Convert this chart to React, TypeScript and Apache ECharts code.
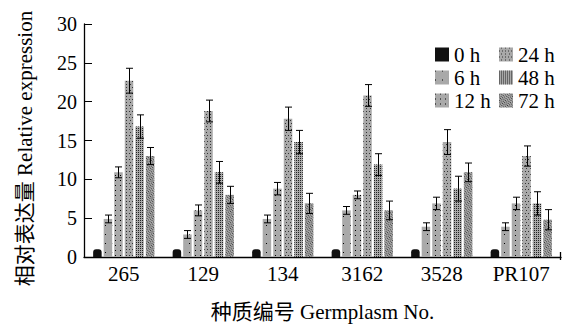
import React, { useEffect, useRef } from "react";
import * as echarts from "echarts";

const categories = ["265", "129", "134", "3162", "3528", "PR107"];
const timeNames = ["0 h", "6 h", "12 h", "24 h", "48 h", "72 h"];
const values0h = [1.0, 1.0, 1.0, 1.0, 1.0, 1.0];
const values6h = [4.9, 2.9, 4.9, 6.0, 3.9, 3.9];
const values12h = [10.9, 6.0, 8.8, 8.0, 6.9, 6.9];
const values24h = [22.7, 18.8, 17.8, 20.8, 14.8, 13.0];
const values48h = [16.8, 10.9, 14.8, 11.9, 8.8, 6.9];
const values72h = [13.0, 8.0, 6.9, 6.0, 10.9, 4.8];
const err0h = [0, 0, 0, 0, 0, 0];
const err6h = [0.5, 0.5, 0.5, 0.5, 0.5, 0.5];
const err12h = [0.7, 0.7, 0.8, 0.5, 0.8, 0.8];
const err24h = [1.6, 1.4, 1.5, 1.4, 1.6, 1.3];
const err48h = [1.5, 1.4, 1.5, 1.4, 1.6, 1.5];
const err72h = [1.1, 1.1, 1.3, 1.2, 1.2, 1.3];
const yTicks = { min: 0, max: 30, interval: 5 };

const allValues = [values0h, values6h, values12h, values24h, values48h, values72h];
const allErrors = [err0h, err6h, err12h, err24h, err48h, err72h];

const FONT = "'Liberation Serif', 'Noto Sans CJK SC', serif";
const GRAY = "#a9a9a9";
const CAT_GAP = 0.23;
const BAR_GAP = 0.24;

const decals: any[] = [
  null,
  { symbol: "rect", color: "#000", dashArrayX: [1, 6], dashArrayY: [1, 8], symbolSize: 1 },
  { symbol: "rect", color: "#000", dashArrayX: [1, 4], dashArrayY: [1, 4], symbolSize: 1 },
  { symbol: "rect", color: "#333", dashArrayX: [[1, 2], [0, 1.5, 1, 0.5]], dashArrayY: [1, 1.5], symbolSize: 1 },
  { symbol: "rect", color: "#222", dashArrayX: [1, 1], dashArrayY: [1, 1], symbolSize: 1 },
  { symbol: "rect", color: "#333", dashArrayX: [[1, 1], [0, 1, 1, 0]], dashArrayY: [1, 0.5], symbolSize: 1, rotation: Math.PI / 4 },
];

export default function App() {
  const ref = useRef<HTMLDivElement>(null);
  useEffect(() => {
    document.body.style.margin = "0";
    const chart = echarts.init(ref.current!, null, { renderer: "svg" });
    const gridLeft = 84;
    const gridRight = 4;
    const gridTop = 24;
    const gridBottom = 67;
    const n = timeNames.length;

    const barSeries = timeNames.map((name, i) => ({
      name,
      type: "bar",
      data: allValues[i],
      barCategoryGap: (CAT_GAP * 100) + "%",
      barGap: (BAR_GAP * 100) + "%",
      itemStyle: i === 0
        ? { color: "#111", borderRadius: [3, 3, 0, 0] }
        : { color: GRAY, decal: decals[i] },
      z: 2,
    }));

    const errSeries = timeNames.map((name, i) => ({
      name: name + " err",
      type: "custom",
      data: allValues[i].map((v, k) => [k, v, allErrors[i][k]]),
      z: 5,
      silent: true,
      encode: { x: 0, y: 1 },
      renderItem: (params: any, api: any) => {
        const k = api.value(0);
        const v = api.value(1);
        const e = api.value(2);
        if (!e) return null;
        const band = api.size([1, 0])[0];
        const groupW = band * (1 - CAT_GAP);
        const bw = groupW / (n + (n - 1) * BAR_GAP);
        const off = -groupW / 2 + i * bw * (1 + BAR_GAP) + bw / 2;
        const top = api.coord([k, v + e]);
        const bot = api.coord([k, v - e]);
        const x = Math.round(top[0] + off) + 0.5;
        const cap = 3.5;
        const st = { stroke: "#000", lineWidth: 1 };
        return {
          type: "group",
          children: [
            { type: "line", shape: { x1: x, y1: top[1], x2: x, y2: bot[1] }, style: st },
            { type: "line", shape: { x1: x - cap, y1: top[1], x2: x + cap, y2: top[1] }, style: st },
            { type: "line", shape: { x1: x - cap, y1: bot[1], x2: x + cap, y2: bot[1] }, style: st },
          ],
        };
      },
    }));

    const legendBase = {
      orient: "vertical",
      top: 44,
      padding: 0,
      itemWidth: 14,
      itemHeight: 14,
      itemGap: 2,
      icon: "rect",
      textStyle: { fontFamily: FONT, fontSize: 21, lineHeight: 21, color: "#000" },
    };

    chart.setOption({
      animation: false,
      aria: { enabled: false },
      grid: { left: gridLeft, right: gridRight, top: gridTop, bottom: gridBottom, containLabel: false },
      legend: [
        { ...legendBase, left: 435, data: timeNames.slice(0, 3) },
        { ...legendBase, left: 499, data: timeNames.slice(3, 6) },
      ],
      xAxis: {
        type: "category",
        data: categories,
        name: "种质编号 Germplasm No.",
        nameLocation: "middle",
        nameGap: 44,
        nameTextStyle: { fontFamily: FONT, fontSize: 21, color: "#000" },
        axisLine: { lineStyle: { color: "#000", width: 1.3 } },
        axisTick: { show: false },
        axisLabel: { fontFamily: FONT, fontSize: 21, color: "#000", margin: 6 },
      },
      yAxis: {
        type: "value",
        min: yTicks.min,
        max: yTicks.max,
        interval: yTicks.interval,
        name: "相对表达量 Relative expression",
        nameLocation: "middle",
        nameGap: 49,
        nameTextStyle: { fontFamily: FONT, fontSize: 21, color: "#000", padding: [0, 16, 0, 0] },
        axisLine: { show: true, lineStyle: { color: "#000", width: 1.3 } },
        axisTick: { show: true, inside: true, length: 8, lineStyle: { color: "#000" } },
        axisLabel: { fontFamily: FONT, fontSize: 20, color: "#000", margin: 7 },
        splitLine: { show: false },
      },
      graphic: [
        {
          type: "line",
          shape: { x1: 565 - gridRight - 0.5, y1: 327 - gridBottom, x2: 565 - gridRight - 0.5, y2: 327 - gridBottom - 8 },
          style: { stroke: "#000", lineWidth: 1.3 },
        },
      ],
      series: [...barSeries, ...errSeries],
    });
    return () => chart.dispose();
  }, []);
  return <div ref={ref} style={{ width: 565, height: 327 }} />;
}
